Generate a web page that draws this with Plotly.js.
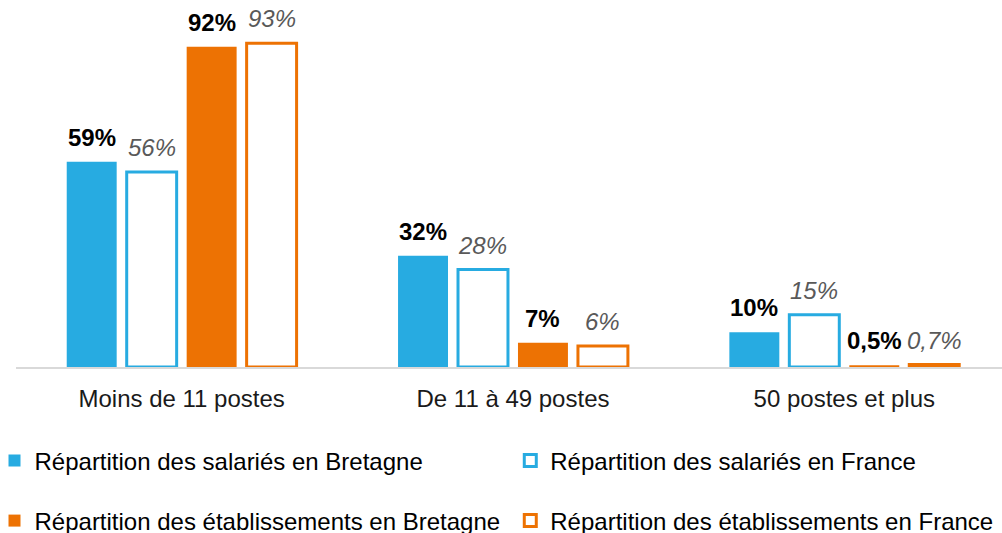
<!DOCTYPE html>
<html>
<head>
<meta charset="utf-8">
<script src="https://cdn.plot.ly/plotly-3.0.1.min.js"></script>
<style>html,body{margin:0;padding:0;background:#fff;}#chart{width:1002px;height:533px;}</style>
</head>
<body>
<div id="chart"></div>
<script>
var categories = ["Moins de 11 postes", "De 11 à 49 postes", "50 postes et plus"];
var seriesNames = [
  "Répartition des salariés en Bretagne",
  "Répartition des salariés en France",
  "Répartition des établissements en Bretagne",
  "Répartition des établissements en France"
];
var salariesBretagne = [59, 32, 10];
var salariesFrance = [56, 28, 15];
var etabBretagne = [92, 7, 0.5];
var etabFrance = [93, 6, 0.7];

var BLUE = "#27ABE1", ORANGE = "#ED7203";
var series = [salariesBretagne, salariesFrance, etabBretagne, etabFrance];
var styles = [
  {color: BLUE, line: {color: BLUE, width: 0}, legend: "legend"},
  {color: "#ffffff", line: {color: BLUE, width: 3}, legend: "legend2"},
  {color: ORANGE, line: {color: ORANGE, width: 0}, legend: "legend3"},
  {color: "#ffffff", line: {color: ORANGE, width: 3}, legend: "legend4"}
];

function fmt(v) { return String(v).replace(".", ",") + "%"; }

var traces = series.map(function (vals, i) {
  return {
    type: "bar",
    name: seriesNames[i],
    x: categories,
    y: vals,
    marker: {color: styles[i].color, line: styles[i].line},
    legend: styles[i].legend,
    hoverinfo: "skip"
  };
});

var annotations = [];
series.forEach(function (vals, i) {
  var bold = (i % 2 === 0);
  vals.forEach(function (v, j) {
    annotations.push({
      x: categories[j], y: v, xref: "x", yref: "y",
      text: fmt(v), showarrow: false,
      xanchor: "center", yanchor: "bottom",
      xshift: (i - 1.5) * 60, yshift: 9,
      font: {
        family: "Liberation Sans, Arial, sans-serif", size: 24,
        color: bold ? "#000000" : "#595959",
        weight: bold ? "bold" : "normal",
        style: bold ? "normal" : "italic"
      }
    });
  });
});

var legendFont = {family: "Liberation Sans, Arial, sans-serif", size: 24, color: "#000000"};
function leg(x, y) {
  return {orientation: "h", x: x, xanchor: "left", y: y, yanchor: "middle",
          font: legendFont, bgcolor: "rgba(0,0,0,0)", borderwidth: 0};
}
var layout = {
  width: 1002, height: 533,
  margin: {l: 15.5, r: 0, t: 19, b: 166, autoexpand: false},
  paper_bgcolor: "#ffffff", plot_bgcolor: "#ffffff",
  barmode: "group", bargap: 0.276, bargroupgap: 0.167,
  xaxis: {
    type: "category", range: [-0.5, 2.476],
    showline: true, linecolor: "#d9d9d9", linewidth: 2,
    showgrid: false, zeroline: false, ticks: "", ticklabelstandoff: 9,
    tickfont: {family: "Liberation Sans, Arial, sans-serif", size: 24, color: "#1a1a1a"},
    fixedrange: true
  },
  yaxis: {range: [0, 100], visible: false, showgrid: false, zeroline: false, fixedrange: true},
  showlegend: true,
  legend: leg(-0.0218, -0.270),
  legend2: leg(0.5013, -0.270),
  legend3: leg(-0.0218, -0.4425),
  legend4: leg(0.5013, -0.4425),
  annotations: annotations
};

Plotly.newPlot("chart", traces, layout, {displayModeBar: false, staticPlot: true});
</script>
</body>
</html>
